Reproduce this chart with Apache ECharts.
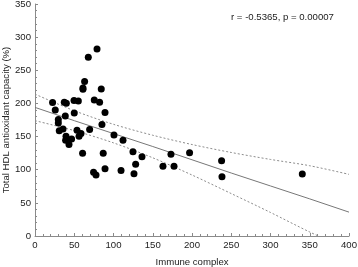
<!DOCTYPE html>
<html>
<head>
<meta charset="utf-8">
<script src="https://cdn.jsdelivr.net/npm/echarts@6/dist/echarts.min.js"></script>
<style>
    html, body { margin: 0; padding: 0; background: #fff; }
    #chartmain { width: 358px; height: 267px; }
</style>
</head>
<body>
<div id="chartmain"></div>
<script>
// immune complex (x) / total HDL antioxidant capacity % (y)
var immuneX = [79, 67.9, 63.2, 61.1, 61.1, 84.4, 22.4, 25.8, 37.3, 39.9,
    49.7, 55.2, 75.5, 82.3, 50, 38.6, 89.2, 29.7, 29.7, 30.9,
    35.7, 85.3, 69.6, 53.5, 58.6, 56.1, 39.5, 39, 46.6, 43.3,
    100.6, 112.1, 60.6, 86.9, 124.8, 136.3, 173.2, 196.9, 128.2, 163,
    177.1, 89.2, 74.6, 77.7, 109.6, 126.1, 237.7, 238.2, 340.5];
var hdlY = [282.1, 269.6, 232.9, 223.3, 221.4, 221.9, 201.4, 190.2, 201.8, 200.3,
    204.4, 203.8, 205.3, 201.8, 185.7, 181.2, 186.3, 175.7, 170.6, 158.6,
    161.6, 168.2, 160.7, 159.6, 154.7, 150.6, 150.6, 144.6, 146.5, 138.1,
    152.5, 144.6, 125, 125, 127, 119.5, 123.5, 125.5, 108.4, 105.4,
    105.4, 101.4, 96.1, 92.2, 98.9, 93.8, 113.4, 89.3, 93.4];

// fit line and confidence band, read at these x positions
var bandX = [0, 50, 100, 150, 200, 250, 300, 350, 400];
var fitY = [194, 174, 154.5, 135, 115, 95, 75.5, 56, 36];
var upperY = [214, 189, 168.5, 152, 138, 126, 115.5, 106, 93];
var lowerY = [174, 159, 140.5, 118, 92, 64, 35.5, 6, -21];

var statText = 'r = -0.5365, p = 0.00007';
var yTitle = 'Total HDL antioxidant capacity (%)';

function pairs(xs, ys) {
    var out = [];
    for (var i = 0; i < xs.length; i++) {
        out.push([xs[i], ys[i]]);
    }
    return out;
}

var font = 'Liberation Sans, Arial, sans-serif';
var axisGrey = '#8a8a8a';
var textCol = '#222';

var option = {
    animation: false,
    grid: {left: 35, right: 9, top: 4, bottom: 31, containLabel: false, outerBoundsMode: 'none'},
    xAxis: {
        type: 'value',
        min: 0, max: 400, interval: 50,
        name: 'Immune complex',
        nameLocation: 'middle',
        nameGap: 21,
        nameTextStyle: {fontFamily: font, fontSize: 9.6, color: textCol},
        axisLine: {lineStyle: {color: axisGrey}},
        axisTick: {inside: true, length: 3, lineStyle: {color: axisGrey}},
        minorTick: {show: true, splitNumber: 5, length: 2, lineStyle: {color: axisGrey}},
        axisLabel: {fontFamily: font, fontSize: 9.6, color: textCol, margin: 4},
        splitLine: {show: false}
    },
    yAxis: {
        type: 'value',
        min: 0, max: 350, interval: 50,
        axisLine: {show: true, lineStyle: {color: axisGrey}},
        axisTick: {show: true, inside: true, length: 3, lineStyle: {color: axisGrey}},
        minorTick: {show: true, splitNumber: 5, length: 2, lineStyle: {color: axisGrey}},
        axisLabel: {fontFamily: font, fontSize: 9.6, color: textCol, margin: 4},
        splitLine: {show: false}
    },
    graphic: [
        {
            type: 'text',
            left: 231, top: 12,
            style: {text: statText, font: '9.6px ' + font, fill: textCol}
        },
        {
            // y axis title, rotated
            type: 'text',
            x: 6, y: 120,
            rotation: Math.PI / 2,
            style: {
                text: yTitle, font: '9.6px ' + font, fill: textCol,
                align: 'center', verticalAlign: 'middle'
            }
        }
    ],
    series: [
        {
            type: 'line',
            data: pairs(bandX, upperY),
            smooth: 0.3,
            symbol: 'none',
            lineStyle: {color: '#8c8c8c', width: 1, type: [2, 2]},
            z: 1
        },
        {
            type: 'line',
            data: pairs(bandX, lowerY),
            smooth: 0.3,
            symbol: 'none',
            clip: true,
            lineStyle: {color: '#8c8c8c', width: 1, type: [2, 2]},
            z: 1
        },
        {
            type: 'line',
            data: pairs(bandX, fitY),
            symbol: 'none',
            lineStyle: {color: '#777', width: 1},
            z: 2
        },
        {
            type: 'scatter',
            data: pairs(immuneX, hdlY),
            symbol: 'circle',
            symbolSize: 7,
            itemStyle: {color: '#000', opacity: 1},
            z: 3
        }
    ]
};

var myChart = echarts.init(document.getElementById('chartmain'));
myChart.setOption(option);
</script>
</body>
</html>
